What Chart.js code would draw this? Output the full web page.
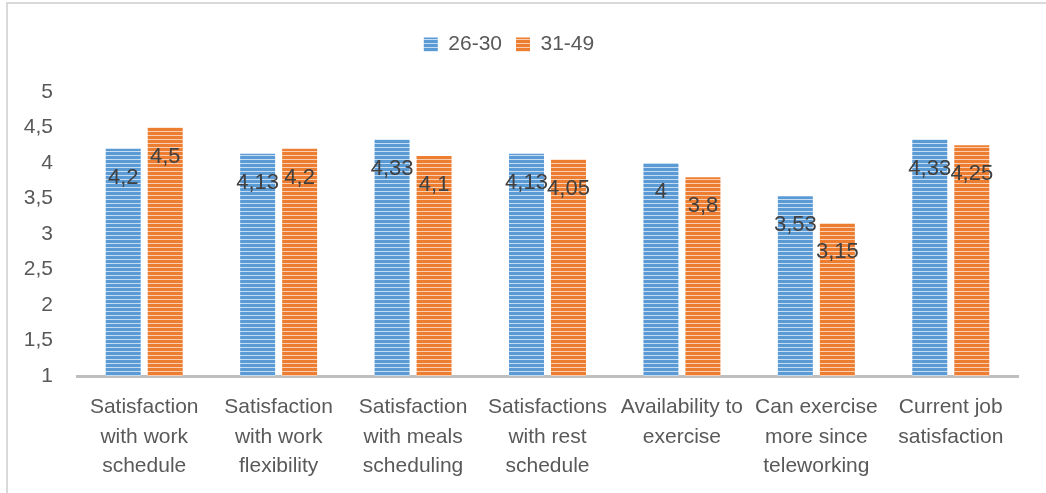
<!DOCTYPE html>
<html>
<head>
<meta charset="utf-8">
<script src="https://cdn.jsdelivr.net/npm/chart.js@4/dist/chart.umd.min.js"></script>
<style>
  html, body { margin: 0; padding: 0; background: #fff; }
  #wrap { position: relative; width: 1046px; height: 493px; overflow: hidden; }
  #frame { position: absolute; left: 6px; top: 2px; width: 1100px; height: 600px;
           border-left: 2px solid #D9D9D9; border-top: 2px solid #D9D9D9; z-index: 2; }
  #cut { position: absolute; right: 168px; top: -22px; font: bold 20px/20px "Liberation Serif", serif;
         color: #000; white-space: nowrap; z-index: 1; }
  canvas { position: absolute; left: 0; top: 0; }
</style>
</head>
<body>
<div id="wrap">
  <div id="cut">Figure 4. Mean satisfaction scores by age group</div>
  <div id="frame"></div>
  <canvas id="barChart" width="1046" height="493"></canvas>
</div>
<script>
const categories = [
  ["Satisfaction", "with work", "schedule"],
  ["Satisfaction", "with work", "flexibility"],
  ["Satisfaction", "with meals", "scheduling"],
  ["Satisfactions", "with rest", "schedule"],
  ["Availability to", "exercise"],
  ["Can exercise", "more since", "teleworking"],
  ["Current job", "satisfaction"],
];
const seriesNames = ["26-30", "31-49"];
const age26to30 = [4.2, 4.13, 4.33, 4.13, 4, 3.53, 4.33];
const age31to49 = [4.5, 4.2, 4.1, 4.05, 3.8, 3.15, 4.25];
const yTicks = [1, 1.5, 2, 2.5, 3, 3.5, 4, 4.5, 5];

const FONT = "'Liberation Sans', Arial, sans-serif";

// striped fill like the Excel pattern
const stripes = (base, light) => {
  const c = document.createElement("canvas");
  c.width = 4; c.height = 4;
  const g = c.getContext("2d");
  g.fillStyle = base; g.fillRect(0, 0, 4, 4);
  g.fillStyle = light; g.fillRect(0, 3, 4, 1);
  return g.createPattern(c, "repeat");
};

const canvas = document.getElementById("barChart");
const bluePat = stripes("#5B9BD5", "#C5DCF1");
const orangePat = stripes("#ED7D31", "#F9CFB2");

const comma = (v) => String(v).replace(".", ",");

const barLabels = {
  id: "barLabels",
  afterDatasetsDraw(chart) {
    const c = chart.ctx;
    c.save();
    c.font = "22px " + FONT;
    c.fillStyle = "#404040";
    c.textAlign = "center";
    c.textBaseline = "middle";
    chart.data.datasets.forEach((ds, i) => {
      chart.getDatasetMeta(i).data.forEach((el, j) => {
        c.fillText(comma(ds.data[j]), el.x, el.y + 29);
      });
    });
    c.restore();
  },
};

// extra room under the legend
const legendGap = {
  id: "legendGap",
  afterInit(chart) {
    const lg = chart.legend;
    const fit = lg.fit;
    lg.fit = function () { fit.call(this); this.height += 27; };
  },
};

new Chart(canvas, {
  type: "bar",
  data: {
    labels: categories,
    datasets: [
      { label: seriesNames[0], data: age26to30, backgroundColor: bluePat, borderWidth: 0 },
      { label: seriesNames[1], data: age31to49, backgroundColor: orangePat, borderWidth: 0 },
    ],
  },
  options: {
    responsive: false,
    animation: false,
    events: [],
    devicePixelRatio: 1,
    categoryPercentage: 0.625,
    barPercentage: 0.833,
    layout: { padding: { left: 0, right: 28, top: 20, bottom: 0 } },
    plugins: {
      legend: {
        position: "top",
        labels: {
          boxWidth: 14, boxHeight: 14, padding: 14,
          color: "#595959", font: { family: FONT, size: 21 },
        },
      },
      tooltip: { enabled: false },
    },
    scales: {
      x: {
        grid: { display: false, drawTicks: false },
        border: { display: true, color: "#BFBFBF", width: 3 },
        ticks: {
          color: "#595959", padding: 17, maxRotation: 0, autoSkip: false,
          font: { family: FONT, size: 21, lineHeight: 1.4 },
        },
        afterFit: (s) => { s.height = 117; },
      },
      y: {
        min: 1, max: 5,
        grid: { display: false, drawTicks: false },
        border: { display: false },
        afterBuildTicks: (s) => { s.ticks = yTicks.map((v) => ({ value: v })); },
        afterFit: (s) => { s.width = 77; },
        ticks: {
          color: "#595959", padding: 24,
          font: { family: FONT, size: 21 },
          callback: (v) => comma(v),
        },
      },
    },
  },
  plugins: [barLabels, legendGap],
});
</script>
</body>
</html>
